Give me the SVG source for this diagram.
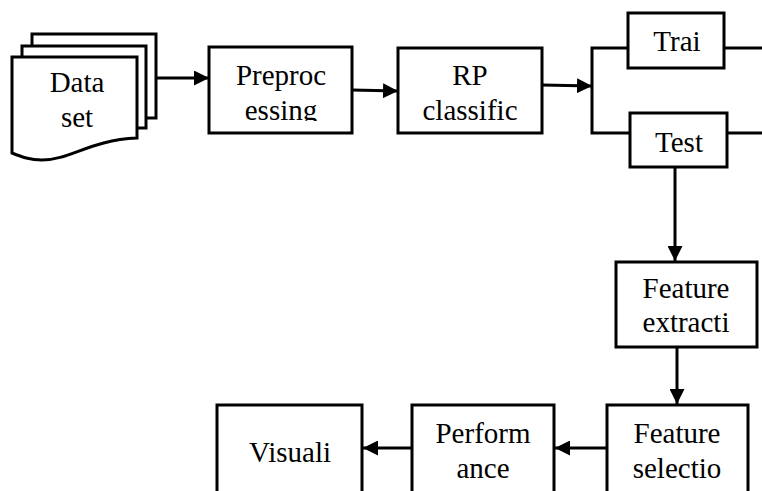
<svg xmlns="http://www.w3.org/2000/svg" width="762" height="491" viewBox="0 0 762 491">
<style>
.box{fill:#fff;stroke:#000;stroke-width:3}
.ln{fill:none;stroke:#000;stroke-width:3}
text{font-family:"Liberation Serif","Times New Roman",serif;font-size:29px;fill:#000;text-anchor:middle}
</style>
<defs>
<marker id="ah" viewBox="0 0 10 10" refX="10" refY="5" markerWidth="15" markerHeight="15" markerUnits="userSpaceOnUse" orient="auto">
<path d="M0,0 L10,5 L0,10 Z" fill="#000"/>
</marker>
<clipPath id="cpPre"><rect x="209" y="47" width="143" height="74"/></clipPath>
</defs>
<rect width="762" height="491" fill="#fff"/>
<g id="connectors">
<line class="ln" x1="156" y1="78" x2="209" y2="78" marker-end="url(#ah)"/>
<line class="ln" x1="352" y1="90" x2="398" y2="91" marker-end="url(#ah)"/>
<line class="ln" x1="542" y1="85" x2="592" y2="86" marker-end="url(#ah)"/>
<polyline class="ln" points="628,48 592,48 592,133 630,133"/>
<line class="ln" x1="724" y1="48" x2="762" y2="48"/>
<line class="ln" x1="727" y1="133" x2="762" y2="133"/>
<line class="ln" x1="675" y1="167" x2="675" y2="261" marker-end="url(#ah)"/>
<line class="ln" x1="677" y1="347" x2="677" y2="404" marker-end="url(#ah)"/>
<line class="ln" x1="607" y1="448" x2="555" y2="448" marker-end="url(#ah)"/>
<line class="ln" x1="412" y1="448" x2="363" y2="448" marker-end="url(#ah)"/>
</g>
<g id="dataset">
<rect class="box" x="32" y="34" width="124" height="84"/>
<rect class="box" x="22" y="46" width="124" height="82"/>
<path class="box" d="M12,57 L137,57 L137,138 C90,140 70,160 42,160 C30,160 22,157 12,153 Z"/>
<text x="77" y="92">Data</text>
<text x="77" y="127">set</text>
</g>
<g id="preprocessing">
<rect class="box" x="209" y="47" width="143" height="86"/>
<g clip-path="url(#cpPre)">
<text x="281" y="85">Preproc</text>
<text x="281" y="120">essing</text>
</g>
</g>
<g id="rp">
<rect class="box" x="398" y="48" width="144" height="85"/>
<text x="470" y="85">RP</text>
<text x="470" y="120">classific</text>
</g>
<g id="train">
<rect class="box" x="628" y="13" width="96" height="55"/>
<text x="677" y="51">Trai</text>
</g>
<g id="test">
<rect class="box" x="630" y="113" width="97" height="54"/>
<text x="679" y="152">Test</text>
</g>
<g id="extraction">
<rect class="box" x="616" y="262" width="141" height="85"/>
<text x="686" y="298">Feature</text>
<text x="686" y="332">extracti</text>
</g>
<g id="selection">
<rect class="box" x="607" y="405" width="141" height="90"/>
<text x="677" y="443">Feature</text>
<text x="677" y="478">selectio</text>
</g>
<g id="performance">
<rect class="box" x="412" y="405" width="142" height="90"/>
<text x="483" y="443">Perform</text>
<text x="483" y="478">ance</text>
</g>
<g id="visualization">
<rect class="box" x="217" y="405" width="145" height="90"/>
<text x="290" y="462">Visuali</text>
</g>
</svg>
